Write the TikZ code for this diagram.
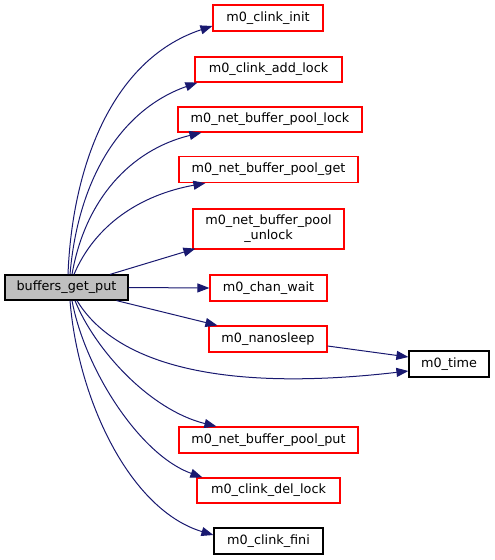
\documentclass[tikz,border=0pt]{standalone}
\usepackage{fontspec}
\setmainfont{DejaVu Sans}
\usetikzlibrary{arrows.meta}
\definecolor{edgeblue}{HTML}{191970}
\definecolor{boxred}{HTML}{FF0000}
\definecolor{mainfill}{HTML}{BFBFBF}
\begin{document}
\begin{tikzpicture}[x=1pt,y=-1pt,
  box/.style={draw=boxred,line width=1.2pt,fill=white,inner sep=0pt,align=center,font=\fontsize{12.8}{15}\selectfont},
  blackbox/.style={box,draw=black},
  mainbox/.style={box,draw=black,fill=mainfill},
  edge/.style={draw=edgeblue,line width=1pt,-{Triangle[length=12pt,width=9pt]},fill=none}]
\useasboundingbox (0,0) rectangle (495,560);
\node[mainbox,minimum width=123pt,minimum height=25pt] (main) at (66.5,287.5) {buffers\_get\_put};
\node[box,minimum width=110pt,minimum height=26pt] (init) at (268,18) {m0\_clink\_init};
\node[box,minimum width=147pt,minimum height=25pt] (addlock) at (268.5,69.5) {m0\_clink\_add\_lock};
\node[box,minimum width=184pt,minimum height=25pt] (poollock) at (270,119.5) {m0\_net\_buffer\_pool\_lock};
\node[box,minimum width=179pt,minimum height=26pt] (poolget) at (268.5,169.5) {m0\_net\_buffer\_pool\_get};
\node[box,minimum width=151pt,minimum height=40pt] (unlock) at (268.5,229) {m0\_net\_buffer\_pool\\\_unlock};
\node[box,minimum width=117pt,minimum height=26pt] (chanwait) at (268.5,288) {m0\_chan\_wait};
\node[box,minimum width=118pt,minimum height=26pt] (nanosleep) at (268,339) {m0\_nanosleep};
\node[blackbox,minimum width=80pt,minimum height=26pt] (time) at (449,364) {m0\_time};
\node[box,minimum width=179pt,minimum height=26pt] (poolput) at (268.5,440) {m0\_net\_buffer\_pool\_put};
\node[box,minimum width=143pt,minimum height=25pt] (dellock) at (268.5,490.5) {m0\_clink\_del\_lock};
\node[blackbox,minimum width=109pt,minimum height=26pt] (fini) at (268.5,541) {m0\_clink\_fini};

\draw[edge] ([xshift=1.5pt]main.north) .. controls (72,170) and (110,60) .. ([yshift=-8pt]init.west);
\draw[edge] ([xshift=3.5pt]main.north) .. controls (78,180) and (120,110) .. ([xshift=3pt]addlock.south west);
\draw[edge] ([xshift=5.5pt]main.north) .. controls (85,200) and (130,150) .. ([xshift=24pt]poollock.south west);
\draw[edge] ([xshift=7.5pt]main.north) .. controls (95,225) and (140,195) .. ([xshift=27pt]poolget.south west);
\draw[edge] ([xshift=43.5pt]main.north) -- ([xshift=3pt,yshift=1pt]unlock.south west);
\draw[edge] (main.east) -- (chanwait.west);
\draw[edge] ([xshift=50pt]main.south) -- ([xshift=9pt]nanosleep.north west);
\draw[edge] ([xshift=10.5pt]main.south) .. controls (110,355) and (200,395) .. ([yshift=-7pt]time.west);
\draw[edge] ([yshift=-7pt]nanosleep.east) -- ([yshift=7pt]time.west);
\draw[edge] ([xshift=8.5pt]main.south) .. controls (95,350) and (150,410) .. ([xshift=38pt]poolput.north west);
\draw[edge] ([xshift=5.5pt]main.south) .. controls (85,370) and (140,455) .. ([xshift=6pt]dellock.north west);
\draw[edge] ([xshift=3.5pt]main.south) .. controls (78,400) and (130,510) .. ([yshift=6pt]fini.west);
\end{tikzpicture}
\end{document}
